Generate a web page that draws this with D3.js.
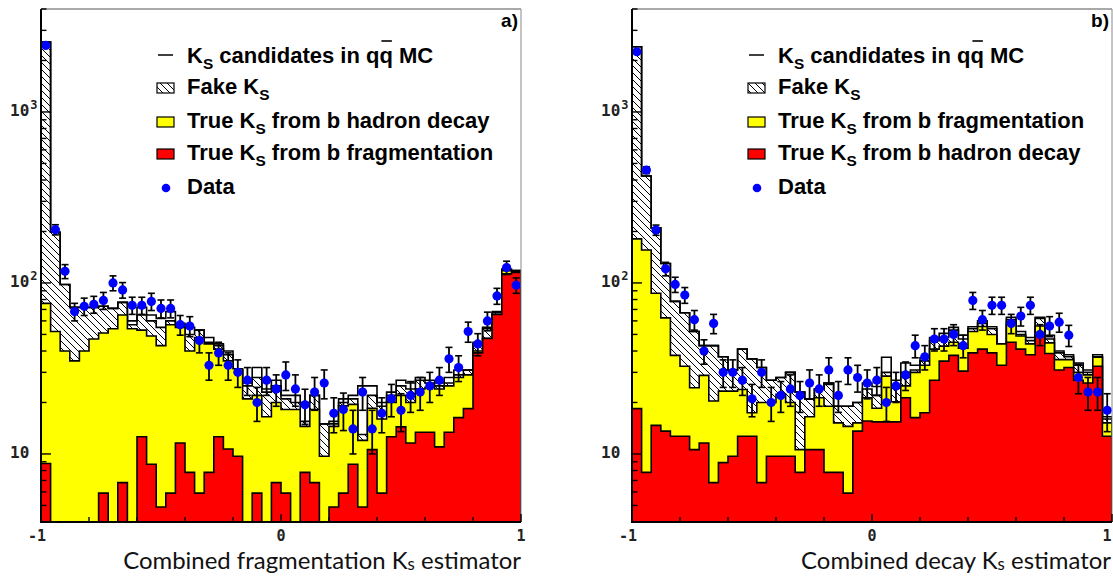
<!DOCTYPE html>
<html>
<head>
<meta charset="utf-8">
<script src="https://cdn.jsdelivr.net/npm/d3@7"></script>
<style>
  body { margin: 0; background: #fff; }
</style>
</head>
<body>
<div id="chart"></div>
<script>
// 50 bins from -1 to 1
const nBins = 50;
const binLo = d3.range(nBins).map(i => -1 + i * 0.04);

// panel a) : fragmentation estimator
const totA  = [2560,198,98,72,72,72,73,71,77,60,72,65,62,68,58,55,53,48,44,40,31,26,32,24,27,
               22,22,20,22,15,15.5,21,22,25,25,20,23,27,26,28,27,26,28,31,31,45,55,68,120,118];
const fakeA = [2560,198,98,72,72,72,73,71,77,57,65,60,55,60,57,50,53,45,43,38,31,25,28,23,25,
               21,20,15.5,22,15,15,20,21,13,22,19,22,25,24,27,26,25,26,29,31,44,54,67,120,118];
const yelA  = [76,52,40,35,40,47,51,54,65,54,53,49,43,57,55,40,48,44,41,35,31.5,21,22,16.5,20,
               18.2,18.2,14.5,18.2,9.7,14.5,19.1,19.5,12,18.5,16,20,22,20,24,24.5,24,25,28,29,40,47.5,65,118,117];
const redA  = [8.8,0,0,0,0,0,5.9,0,6.8,0,12.6,8.7,4.9,5.9,11.6,7.8,5.9,7.8,12.6,10.7,9.7,0,5.9,0,6.8,
               5.9,0,7.8,6.8,0,4.9,5.9,8.7,4.9,10.6,5.9,12.6,14.4,11.6,13.4,13.4,11,13.4,16.3,18.4,39,47.3,65.5,113,115];
const dataA = [2450,205,117,68,73,75,79,100,91,74,74,78,71,71,57,56,46,33,39,33,30,27,20,27,24,
               29,24,19.4,23,26,17.3,18.2,14,23,14,17.3,21,18,22,23,25,27,36,32,52,44,60,84,123,97];
const errA  = [50,14,11,8,8.5,8.5,9,10,9.5,8.5,8.5,9,8.5,8.5,7.5,7.5,7,6,6,6,5.5,5,4.5,5,5,
               5.5,5,4.5,5,5,4,4.5,4,5,4,4,4.5,4.5,4.5,5,5,5,6,5.5,7,6.5,7.5,9,11,10];

// panel b) : decay estimator
const totB  = [2405,422,210,130,78,67,52,43,43,37,31,41,36,32,27,28,30,23,21,24,26,19,19,20,26,
               24.8,36.8,27,34,33,36.5,48,50.7,55,49.5,55.5,60,55.5,44,63,52,48,63,49.5,40,38,34,31,38,16.5];
const fakeB = [2405,422,210,130,78,67,52,43,43,37,31,41,36,32,27,28,30,23,21,24,26,19,19,20,24,
               22,30,25,30,31,35,46,48,53,47,54,58,54,44,61,50,46,62,47,39,37,33,30,37,16];
const yelB  = [181,156,87,62.5,37.7,32.6,24.4,28.8,20.4,23.3,23.3,23.8,17.4,20,20,22.3,20,10.6,16.5,21.3,19,15.2,14.5,15.2,21.3,
               18.5,28.5,20.2,25,30,33,41,42.7,45,41.5,52,55.6,50,44,58,49,44,56,44.6,35.6,35.6,30,29,36.8,15.2];
const redB  = [18.4,7.8,14.7,13.6,12.7,12.7,10.6,11.6,6.8,8.9,9.7,12.7,12.7,6.8,9.7,9.7,9.7,7.8,10.6,10.6,7.8,7.8,5.9,13.6,15.6,
               15.4,15.4,15.4,21.3,16.3,17.4,27,34.9,37.7,30.5,39,41,39,33,45,41,38,49,38.7,31,32,27,26,32.6,12.7];
const dataB = [2250,457,204,121,98,85,61,40,58,30,30,27,21,30,20,22,24,22,26,24,31,22,31,28,26,
               27,20,25,29,43,37,47,47,50,43,79,61,74,74,58,64,74,50,56,59,49.5,28,23,23,18];
const errB  = [48,21,14,11,10,9,8,6.5,7.5,5.5,5.5,5,4.5,5.5,4.5,4.5,5,4.5,5,5,5.5,4.5,5.5,5,5,
               5,4.5,5,5.5,6.5,6,7,7,7,6.5,9,8,8.5,8.5,7.5,8,8.5,7,7.5,7.5,7,5.5,5,5,4.5];

const legendA = ["True K|S| from b hadron decay", "True K|S| from b fragmentation"];
const legendB = ["True K|S| from b fragmentation", "True K|S| from b hadron decay"];

const yMin = 4, yMax = 4000;
const W = 1113, H = 578;
const frameTop = 9, frameBot = 522, pw = 480;

const svg = d3.select("#chart").append("svg")
  .attr("width", W).attr("height", H);

const defs = svg.append("defs");
defs.append("pattern")
  .attr("id", "hatch")
  .attr("patternUnits", "userSpaceOnUse")
  .attr("width", 7).attr("height", 7)
  .append("path")
    .attr("d", "M-1,-1L8,8M-1,6L1,8M6,-1L8,1")
    .attr("stroke", "#000").attr("stroke-width", 1);

const legFont = "'Liberation Sans', Arial, sans-serif";
const tickFont = "'DejaVu Sans Mono', monospace";
const titleFont = "Lato, 'Open Sans', sans-serif";

// writes a sequence like "True K|S| from b" where |..| is a subscript
function richText(g, str, x, y, size, opts) {
  opts = opts || {};
  const shift = opts.subShift !== undefined ? opts.subShift : size * 0.28;
  const parts = str.split("|");
  let cx = x;
  parts.forEach(function(p, i) {
    if (p === "") return;
    const sub = i % 2 === 1;
    const t = g.append("text")
      .attr("x", cx).attr("y", sub ? y + shift : y)
      .style("font-family", opts.family || legFont)
      .style("font-weight", opts.weight || "bold")
      .style("font-size", (sub ? size * 0.7 : size) + "px")
      .style("fill", opts.fill || "#000")
      .style("white-space", "pre")
      .text(p);
    cx += t.node().getComputedTextLength();
  });
  return cx;
}

// axis title size: fit panel a title to the frame width
const probe = svg.append("g");
const probeW = richText(probe, "Combined fragmentation K|s| estimator", 0, -50, 24, {family: titleFont, weight: 400});
probe.remove();
const titleSize = 24 * 398 / probeW;

function drawPanel(p) {
  const x = d3.scaleLinear().domain([-1, 1]).range([p.left, p.left + pw]);
  const y = d3.scaleLog().domain([yMin, yMax]).range([frameBot, frameTop]);
  const g = svg.append("g");

  const clipId = "clip" + p.name;
  defs.append("clipPath").attr("id", clipId)
    .append("rect").attr("x", p.left).attr("y", frameTop).attr("width", pw).attr("height", frameBot - frameTop);

  const hg = g.append("g").attr("clip-path", "url(#" + clipId + ")");

  const area = d3.area()
    .curve(d3.curveStepAfter)
    .x(d => x(d.x))
    .y0(y(yMin))
    .y1(d => y(Math.max(d.v, yMin)));

  function pts(vals) {
    const a = vals.map((v, i) => ({x: binLo[i], v: v}));
    a.push({x: 1, v: vals[vals.length - 1]});
    return a;
  }

  const layers = [
    {vals: p.tot,  fill: "#fff"},
    {vals: p.fake, fill: "url(#hatch)"},
    {vals: p.yel,  fill: "#ffff00"},
    {vals: p.red,  fill: "#ff0000"}
  ];
  layers.forEach(function(l) {
    hg.append("path")
      .datum(pts(l.vals))
      .attr("d", area)
      .attr("fill", l.fill)
      .attr("stroke", "#000")
      .attr("stroke-width", 1.6);
  });

  // data points with error bars
  const dg = hg.append("g");
  const pnts = p.data.map((v, i) => ({x: binLo[i] + 0.02, v: v, e: p.err[i]}));
  dg.selectAll("line.eb").data(pnts).enter().append("line")
    .attr("x1", d => x(d.x)).attr("x2", d => x(d.x))
    .attr("y1", d => y(d.v + d.e)).attr("y2", d => y(Math.max(d.v - d.e, yMin)))
    .attr("stroke", "#000").attr("stroke-width", 1.8);
  dg.selectAll("line.cu").data(pnts).enter().append("line")
    .attr("x1", d => x(d.x) - 3.5).attr("x2", d => x(d.x) + 3.5)
    .attr("y1", d => y(d.v + d.e)).attr("y2", d => y(d.v + d.e))
    .attr("stroke", "#000").attr("stroke-width", 1.6);
  dg.selectAll("line.cd").data(pnts).enter().append("line")
    .attr("x1", d => x(d.x) - 3.5).attr("x2", d => x(d.x) + 3.5)
    .attr("y1", d => y(d.v - d.e)).attr("y2", d => y(d.v - d.e))
    .attr("stroke", "#000").attr("stroke-width", 1.6);
  dg.selectAll("circle").data(pnts).enter().append("circle")
    .attr("cx", d => x(d.x)).attr("cy", d => y(d.v))
    .attr("r", 4.6).attr("fill", "#0000ff");

  // frame
  g.append("line").attr("x1", p.left).attr("x2", p.left + pw).attr("y1", frameTop).attr("y2", frameTop)
    .attr("stroke", "#555").attr("stroke-width", 1.2);
  g.append("line").attr("x1", p.left + pw).attr("x2", p.left + pw).attr("y1", frameTop).attr("y2", frameBot)
    .attr("stroke", "#888").attr("stroke-width", 1);
  g.append("line").attr("x1", p.left).attr("x2", p.left).attr("y1", frameTop).attr("y2", frameBot + 1)
    .attr("stroke", "#000").attr("stroke-width", 2);
  g.append("line").attr("x1", p.left - 1).attr("x2", p.left + pw).attr("y1", frameBot).attr("y2", frameBot)
    .attr("stroke", "#000").attr("stroke-width", 2);

  // y ticks (inside)
  const yt = [];
  for (let e = 0; e <= 3; e++) for (let m = 1; m <= 9; m++) {
    const v = m * Math.pow(10, e);
    if (v >= yMin && v <= yMax) yt.push({v: v, major: m === 1});
  }
  g.selectAll("line.yt").data(yt).enter().append("line")
    .attr("x1", p.left).attr("x2", d => p.left + (d.major ? 10 : 5.5))
    .attr("y1", d => y(d.v)).attr("y2", d => y(d.v))
    .attr("stroke", "#000").attr("stroke-width", 1.4);

  const ylab = [{v: 10, e: ""}, {v: 100, e: "2"}, {v: 1000, e: "3"}];
  ylab.forEach(function(l) {
    const t = g.append("text")
      .attr("x", p.left - 31).attr("y", y(l.v) + 4)
      .style("font-family", tickFont).style("font-weight", "bold")
      .style("font-size", "16px").style("fill", "#222")
      .text("10");
    if (l.e) t.append("tspan").attr("dx", 1).attr("dy", -7)
      .style("font-size", "12px").text(l.e);
  });

  // x ticks (inside)
  const xt = d3.range(11).map(i => -1 + i * 0.2);
  g.selectAll("line.xt").data(xt).enter().append("line")
    .attr("x1", d => x(d)).attr("x2", d => x(d))
    .attr("y1", frameBot).attr("y2", d => frameBot - (Math.abs(d % 1) < 1e-6 ? 8 : 5))
    .attr("stroke", "#000").attr("stroke-width", 1.4);
  [-1, 0, 1].forEach(function(v) {
    g.append("text")
      .attr("x", Math.min(x(v) - (v < 0 ? 4 : 0), W - 6)).attr("y", 541)
      .attr("text-anchor", "middle")
      .style("font-family", tickFont).style("font-weight", "bold")
      .style("font-size", "15px").style("fill", "#222")
      .text(v < 0 ? "-1" : String(v));
  });

  // axis title, right aligned to frame
  const tg = g.append("g");
  const endX = richText(tg, p.title, 0, 569, titleSize,
    {family: titleFont, weight: 400, fill: "#111", subShift: 1});
  tg.attr("transform", "translate(" + Math.min(p.left + pw - endX, W - 2 - endX) + ",0)");

  // panel label
  g.append("text")
    .attr("x", p.left + pw - 3).attr("y", 27).attr("text-anchor", "end")
    .style("font-family", legFont).style("font-weight", "bold").style("font-size", "19px")
    .text(p.name + ")");

  // legend
  const lg = g.append("g");
  const sx = p.left + 116, tx = p.left + 146;
  const fs = 22;
  const rows = [63, 94, 128, 160, 194];
  lg.append("line").attr("x1", sx + 1).attr("x2", sx + 16).attr("y1", rows[0] - 8).attr("y2", rows[0] - 8)
    .attr("stroke", "#000").attr("stroke-width", 1.5);
  const e1 = richText(lg, "K|S| candidates in q", tx, rows[0], fs);
  const e2 = richText(lg, "q", e1, rows[0], fs);
  lg.append("line").attr("x1", e1 + 2).attr("x2", e2 - 1).attr("y1", rows[0] - 22).attr("y2", rows[0] - 22)
    .attr("stroke", "#000").attr("stroke-width", 1.6);
  richText(lg, " MC", e2, rows[0], fs);

  const boxes = [
    {row: 1, fill: "url(#hatch)", text: "Fake K|S|"},
    {row: 2, fill: "#ffff00", text: p.leg[0]},
    {row: 3, fill: "#ff0000", text: p.leg[1]}
  ];
  boxes.forEach(function(b) {
    lg.append("rect")
      .attr("x", sx).attr("y", rows[b.row] - 11).attr("width", 17).attr("height", 10)
      .attr("fill", b.fill).attr("stroke", "#000").attr("stroke-width", 1.2);
    richText(lg, b.text, tx, rows[b.row], fs);
  });
  lg.append("circle").attr("cx", sx + 9).attr("cy", rows[4] - 6).attr("r", 4.3).attr("fill", "#0000ff");
  richText(lg, "Data", tx, rows[4], fs);
}

drawPanel({name: "a", left: 41, tot: totA, fake: fakeA, yel: yelA, red: redA, data: dataA, err: errA,
  leg: legendA, title: "Combined fragmentation K|s| estimator"});
drawPanel({name: "b", left: 632, tot: totB, fake: fakeB, yel: yelB, red: redB, data: dataB, err: errB,
  leg: legendB, title: "Combined decay K|s| estimator"});
</script>
</body>
</html>
